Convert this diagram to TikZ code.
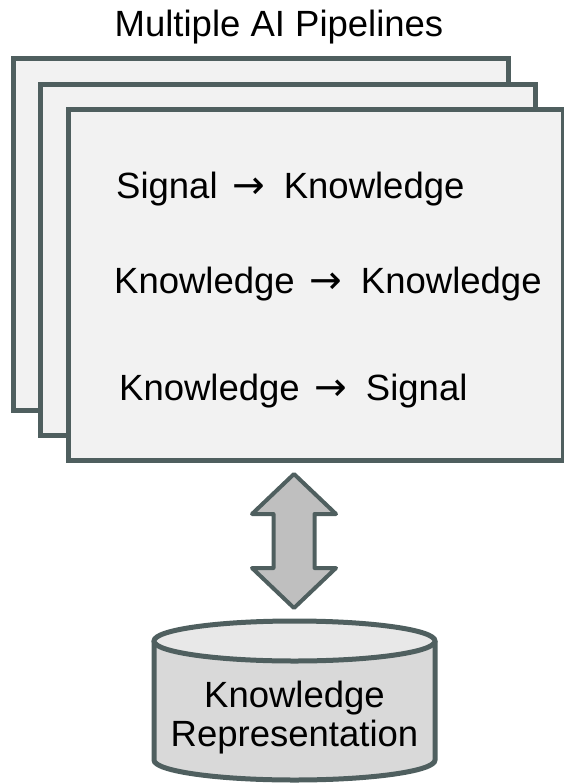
\documentclass[tikz,border=0pt]{standalone}
\usepackage{fontspec}
\setmainfont{Liberation Sans}
\newfontfamily\arrowfont{DejaVu Sans}
\newcommand{\toarrow}{\hspace{0.12em}{\arrowfont\fontsize{39}{39}\selectfont →}\hspace{0.52em}}

\definecolor{edgegray}{RGB}{79,95,95}
\definecolor{boxfill}{RGB}{242,242,242}
\definecolor{arrowfill}{RGB}{191,191,191}
\definecolor{dbtop}{RGB}{232,232,232}
\definecolor{dbbody}{RGB}{217,217,217}

\tikzset{
  pipebox/.style={draw=edgegray, fill=boxfill, line width=5pt,
    minimum width=495pt, minimum height=351pt, inner sep=0pt, outer sep=0pt},
  lbl/.style={inner sep=0pt, font=\fontsize{36.5}{39}\selectfont}
}

\begin{document}
\begin{tikzpicture}[x=1pt,y=-1pt]
    \useasboundingbox (0,0) rectangle (564,784);

    % Title
    \node[lbl, anchor=base] (title) at (279,37) {Multiple AI Pipelines};

    % Stack of pipeline boxes
    \foreach \i/\xpos/\ypos in {1/260.5/234.5, 2/288.25/259.75, 3/316/285}
    {
      \node[pipebox] (p\i) at (\xpos,\ypos) {};
    };

    % Pipeline steps
    \node[lbl, anchor=base west] (sk) at (116,198) {Signal \toarrow Knowledge};
    \node[lbl, anchor=base west] (kk) at (114,293) {Knowledge \toarrow Knowledge};
    \node[lbl, anchor=base west] (ks) at (119,400) {Knowledge \toarrow Signal};

    % Two way arrow
    \draw[draw=edgegray, fill=arrowfill, line width=4pt, line join=round]
      (294,474) -- (336,514) -- (314.5,514) -- (314.5,568) -- (336,568)
      -- (294,608) -- (252,568) -- (273.5,568) -- (273.5,514) -- (252,514) -- cycle;

    % Knowledge store
    \filldraw[draw=edgegray, fill=dbbody, line width=5pt]
      (154,641) -- (154,760) arc (180:0:140.5 and 20) -- (435,641);
    \filldraw[draw=edgegray, fill=dbtop, line width=5pt] (294.5,641) ellipse (140.5 and 20);
    \node[lbl, align=center] (kr) at (294.5,718) {Knowledge\\Representation};

\end{tikzpicture}
\end{document}
